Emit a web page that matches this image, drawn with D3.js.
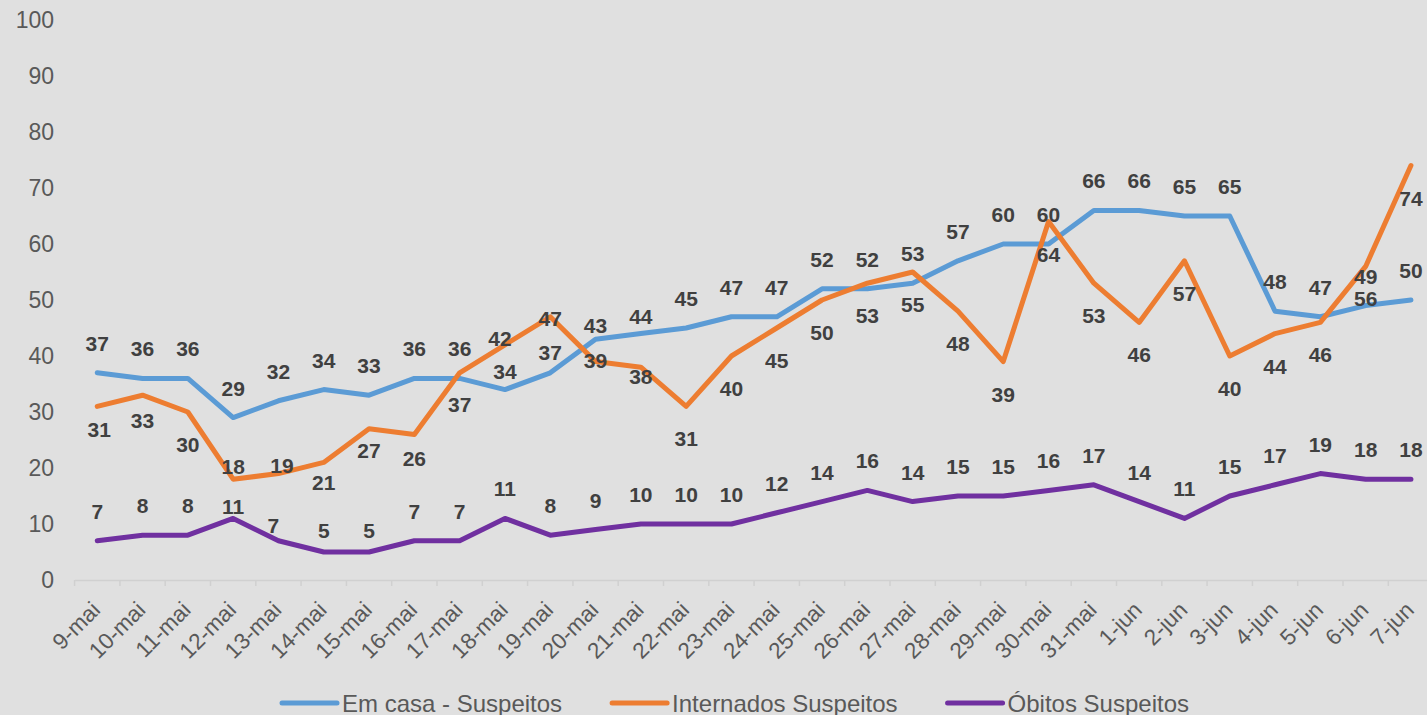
<!DOCTYPE html>
<html>
<head>
<meta charset="utf-8">
<title>Suspeitos</title>
<script src="https://d3js.org/d3.v7.min.js"></script>
<style>
  body { margin: 0; background: #e0e0e0; }
  svg { display: block; font-family: "Liberation Sans", Arial, sans-serif; }
</style>
</head>
<body>
<div id="chart"></div>
<script>
  const days = ["9-mai", "10-mai", "11-mai", "12-mai", "13-mai", "14-mai", "15-mai", "16-mai",
    "17-mai", "18-mai", "19-mai", "20-mai", "21-mai", "22-mai", "23-mai", "24-mai", "25-mai",
    "26-mai", "27-mai", "28-mai", "29-mai", "30-mai", "31-mai", "1-jun", "2-jun", "3-jun",
    "4-jun", "5-jun", "6-jun", "7-jun"];

  const emCasa = [37, 36, 36, 29, 32, 34, 33, 36, 36, 34, 37, 43, 44, 45, 47, 47, 52, 52,
    53, 57, 60, 60, 66, 66, 65, 65, 48, 47, 49, 50];
  const internados = [31, 33, 30, 18, 19, 21, 27, 26, 37, 42, 47, 39, 38, 31, 40, 45, 50, 53,
    55, 48, 39, 64, 53, 46, 57, 40, 44, 46, 56, 74];
  const obitos = [7, 8, 8, 11, 7, 5, 5, 7, 7, 11, 8, 9, 10, 10, 10, 12, 14, 16,
    14, 15, 15, 16, 17, 14, 11, 15, 17, 19, 18, 18];

  const yTicks = [0, 10, 20, 30, 40, 50, 60, 70, 80, 90, 100];

  const series = [
    { name: "Em casa - Suspeitos", values: emCasa, color: "#5b9bd5" },
    { name: "Internados Suspeitos", values: internados, color: "#ed7d31" },
    { name: "Óbitos Suspeitos", values: obitos, color: "#7030a0" }
  ];

  // where each series puts its value labels (px from the point), with hand moved ones
  const labelPlace = [
    { dy: -29.5, moved: { 9: [0, -18], 10: [0, -20], 11: [0, -14], 12: [0, -17.5] } },
    { dy: 32.5, moved: { 0: [2, 23], 1: [0, 25], 3: [0, -12.5], 4: [3.5, -8], 5: [0, 20],
        6: [0, 22], 7: [0, 24.5], 8: [0, 31.5], 9: [-5, -6.5], 10: [0, 1.5], 11: [0, -1.5], 12: [0, 9.5] } },
    { dy: -29.5, moved: { 3: [0, -12], 4: [-5, -15], 5: [0, -22], 6: [0, -22] } }
  ];

  const width = 1427;
  const height = 715;

  const svg = d3.select("#chart")
          .append("svg")
          .attr("width", width)
          .attr("height", height);

  svg.append("rect")
          .attr("width", width)
          .attr("height", height)
          .attr("fill", "#e0e0e0");

  const x = d3.scaleBand()
          .domain(days)
          .range([74.6, 74.6 + 45.3 * days.length]);

  const y = d3.scaleLinear()
          .domain([0, 100])
          .range([580, 20]);

  const cx = d => x(d) + x.bandwidth() / 2;

  // x axis
  const xAxis = svg.append("g")
          .attr("transform", "translate(0,580)")
          .call(d3.axisBottom(x).tickSize(0).tickFormat(""));
  xAxis.select(".domain").attr("stroke", "#d0d0d0").attr("stroke-width", 1.5);

  svg.append("g")
          .selectAll("line")
          .data(days)
          .join("line")
          .attr("x1", d => x(d))
          .attr("x2", d => x(d))
          .attr("y1", 580)
          .attr("y2", 586)
          .attr("stroke", "#d0d0d0")
          .attr("stroke-width", 1.5);

  svg.append("g")
          .selectAll("text")
          .data(days)
          .join("text")
          .attr("transform", d => `translate(${cx(d) - 1},${606}) rotate(-45)`)
          .attr("text-anchor", "end")
          .attr("dominant-baseline", "central")
          .attr("font-size", 22.5)
          .attr("fill", "#595959")
          .text(d => d);

  // y axis labels, no line
  const yAxis = svg.append("g")
          .attr("transform", "translate(54,0)")
          .call(d3.axisLeft(y).tickValues(yTicks).tickSize(0).tickPadding(0));
  yAxis.select(".domain").remove();
  yAxis.selectAll("text")
          .attr("font-size", 23)
          .attr("font-family", "Liberation Sans, Arial, sans-serif")
          .attr("fill", "#595959");

  const line = d3.line()
          .x((d, i) => cx(days[i]))
          .y(d => y(d));

  svg.append("g")
          .selectAll("path")
          .data(series)
          .join("path")
          .attr("d", s => line(s.values))
          .attr("fill", "none")
          .attr("stroke", s => s.color)
          .attr("stroke-width", 5)
          .attr("stroke-linejoin", "round")
          .attr("stroke-linecap", "round");

  series.forEach((s, k) => {
    const place = labelPlace[k];
    svg.append("g")
            .selectAll("text")
            .data(s.values)
            .join("text")
            .attr("x", (d, i) => cx(days[i]) + (place.moved[i] ? place.moved[i][0] : 0))
            .attr("y", (d, i) => y(d) + (place.moved[i] ? place.moved[i][1] : place.dy))
            .attr("text-anchor", "middle")
            .attr("dominant-baseline", "central")
            .attr("font-size", 21)
            .attr("font-weight", "bold")
            .attr("fill", "#404040")
            .text(d => d);
  });

  // legend
  const legend = svg.append("g").attr("transform", "translate(282,703)");
  let lx = 0;
  series.forEach(s => {
    const item = legend.append("g").attr("transform", `translate(${lx},0)`);
    item.append("line")
            .attr("x1", 0)
            .attr("x2", 55)
            .attr("stroke", s.color)
            .attr("stroke-width", 5)
            .attr("stroke-linecap", "round");
    const t = item.append("text")
            .attr("x", 60)
            .attr("dominant-baseline", "central")
            .attr("font-size", 24)
            .attr("fill", "#595959")
            .text(s.name);
    lx += 60 + t.node().getComputedTextLength() + 50;
  });
</script>
</body>
</html>
